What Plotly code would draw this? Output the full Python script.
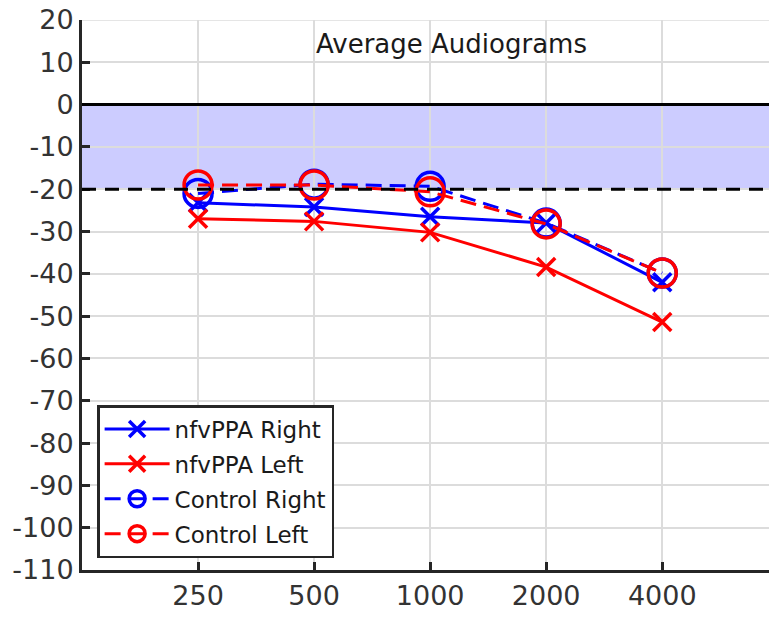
import plotly.graph_objects as go

freqs = ["250", "500", "1000", "2000", "4000"]
xpos = [1, 2, 3, 4, 5]
nfv_right = [-23.2, -24.2, -26.5, -28.0, -42.0]
nfv_left = [-27.0, -27.6, -30.2, -38.4, -51.4]
ctrl_right = [-21.0, -18.8, -19.3, -28.0, -39.8]
ctrl_left = [-19.0, -19.0, -20.6, -28.2, -39.8]
yticks = list(range(-110, 21, 10))
ytick_text = [str(v) for v in yticks]
title_text = "Average Audiograms"

fig = go.Figure()

fig.add_shape(type="rect", xref="x", yref="y", x0=0, x1=6, y0=-20, y1=0,
              fillcolor="#ccccff", line_width=0, layer="below")
fig.add_shape(type="line", xref="x", yref="y", x0=0, x1=6, y0=20, y1=20,
              line=dict(color="#dcdcdc", width=1.5), layer="below")
fig.add_shape(type="line", xref="x", yref="y", x0=0, x1=6, y0=0, y1=0,
              line=dict(color="black", width=3))
fig.add_shape(type="line", xref="x", yref="y", x0=0, x1=6, y0=-20, y1=-20,
              line=dict(color="black", width=3, dash="14px,9px"))

series = [
    ("nfvPPA Right", nfv_right, "#0000ff", "solid", "x-thin", 18),
    ("nfvPPA Left", nfv_left, "#ff0000", "solid", "x-thin", 18),
    ("Control Right", ctrl_right, "#0000ff", "16px,8px", "circle-open", 28),
    ("Control Left", ctrl_left, "#ff0000", "16px,8px", "circle-open", 28),
]
for i, (name, vals, col, dash, sym, sz) in enumerate(series):
    fig.add_trace(go.Scatter(x=xpos, y=vals, name=name, mode="lines+markers",
                             legendgroup="g%d" % i,
                             line=dict(color=col, width=3, dash=dash),
                             marker=dict(symbol=sym, size=sz, line=dict(color=col, width=3.5))))

fig.add_annotation(text=title_text, x=3.18, y=14.3, xref="x", yref="y", showarrow=False,
                   font=dict(size=26, color="#1a1a1a", family="DejaVu Sans"))

fig.update_layout(
    width=769, height=617,
    margin=dict(l=82, r=0, t=20, b=47),
    plot_bgcolor="white", paper_bgcolor="white",
    font=dict(family="DejaVu Sans", size=27, color="#333333"),
    showlegend=True,
    legend=dict(x=0.022, y=0.30, xanchor="left", yanchor="top",
                bgcolor="white", bordercolor="#262626", borderwidth=2.5,
                font=dict(size=23, color="#1a1a1a"), tracegroupgap=2, itemwidth=65),
)
fig.update_xaxes(range=[0, 5.92], tickvals=xpos, ticktext=freqs,
                 showgrid=True, gridcolor="#dcdcdc", gridwidth=1.5,
                 showline=True, linecolor="#262626", linewidth=3,
                 ticks="inside", ticklen=8, tickwidth=3, tickcolor="#262626",
                 zeroline=False, tickfont=dict(size=27, color="#333333"))
fig.update_yaxes(range=[-110, 20], tickvals=yticks, ticktext=ytick_text,
                 showgrid=True, gridcolor="#dcdcdc", gridwidth=1.5,
                 showline=True, linecolor="#262626", linewidth=3,
                 ticks="inside", ticklen=8, tickwidth=3, tickcolor="#262626",
                 zeroline=False, tickfont=dict(size=27, color="#333333"))

fig.write_html("out.html")
